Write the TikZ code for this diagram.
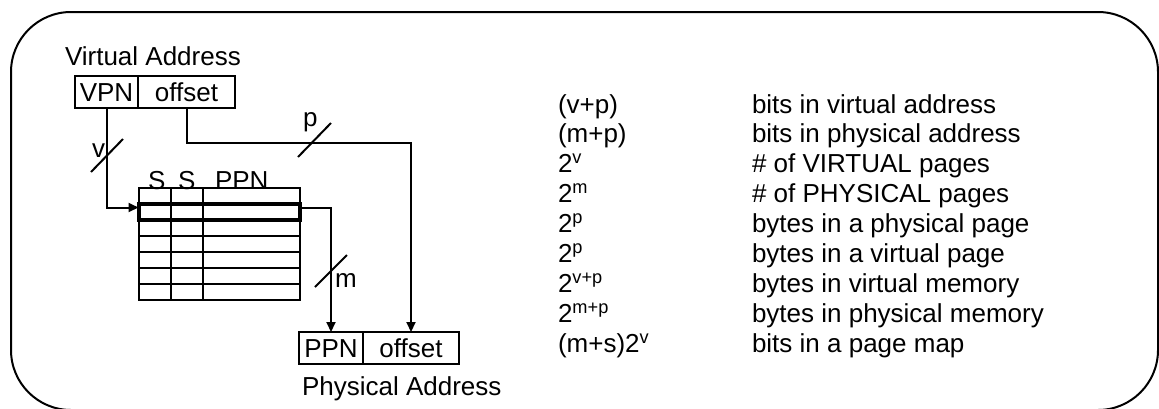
\documentclass[tikz,border=0pt]{standalone}
\usepackage{fontspec}
\setmainfont{Liberation Sans}
\usetikzlibrary{arrows.meta}
\begin{document}
\begin{tikzpicture}[x=1pt,y=-1pt,
  every node/.style={font=\fontsize{26}{30}\selectfont, inner sep=0pt, outer sep=0pt},
  txt/.style={anchor=base west},
  cell/.style={draw, line width=2pt, minimum height=32pt, text height=18.6pt, text depth=0pt, anchor=north west},
  wire/.style={line width=2pt},
  arr/.style={line width=2pt, -{Triangle[length=10pt,width=9pt]}},
]
\useasboundingbox (0,0) rectangle (1159,408);
\draw[line width=2pt, rounded corners=60pt] (11,12) rectangle (1158,410);

% virtual address
\node[txt] (va) at (65,65) {Virtual Address};
\node[cell, minimum width=63pt] (vpn) at (75,76) {VPN};
\node[cell, minimum width=97pt] (voff) at (138,76) {offset};

% page table
\node[draw, line width=2pt, minimum width=161pt, minimum height=112pt, anchor=north west] (tbl) at (138.5,188) {};
\foreach \d in {16,32,48,64,80,96}
  \draw[wire] ([yshift=-\d pt]tbl.north west) -- ([yshift=-\d pt]tbl.north east);
\draw[wire] ([xshift=32.5pt]tbl.north west) -- ([xshift=32.5pt]tbl.south west);
\draw[wire] ([xshift=64.5pt]tbl.north west) -- ([xshift=64.5pt]tbl.south west);
\node[draw, line width=4pt, minimum width=161pt, minimum height=16pt, anchor=north west] (row) at (138.5,204) {};
\node[txt] (s1) at (148,189) {S};
\node[txt] (s2) at (178,189) {S};
\node[txt] (hppn) at (215,189) {PPN};

% physical address
\node[cell, minimum width=64pt] (ppn) at (299,332) {PPN};
\node[cell, minimum width=96pt] (poff) at (363,332) {offset};
\node[txt] (pa) at (302,395) {Physical Address};

% connectors
\draw[arr] (vpn.south) |- ([yshift=4.5pt]row.west);
\draw[arr] ([yshift=4.5pt]row.east) -| (ppn.north);
\draw[arr] (voff.south) -- ++(0,35) -| (poff.north);

% bus-width slashes
\draw[wire] (91,172) -- (123,139);
\draw[wire] (298,157) -- (331,123);
\draw[wire] (315,287) -- (347,255);
\node[txt] (lv) at (92,157) {v};
\node[txt] (lp) at (303,126) {p};
\node[txt] (lm) at (335,287) {m};

% legend
\foreach \i/\a/\b in {0/(v+p)/bits in virtual address,
  1/(m+p)/bits in physical address,
  2/2\textsuperscript{v}/\# of VIRTUAL pages,
  3/2\textsuperscript{m}/\# of PHYSICAL pages,
  4/2\textsuperscript{p}/bytes in a physical page,
  5/2\textsuperscript{p}/bytes in a virtual page,
  6/2\textsuperscript{v+p}/bytes in virtual memory,
  7/2\textsuperscript{m+p}/bytes in physical memory,
  8/(m+s)2\textsuperscript{v}/bits in a page map} {
  \node[txt] (k\i) at (558,113+29.9*\i) {\a};
  \node[txt] (d\i) at (752,113+29.9*\i) {\b};
}
\end{tikzpicture}
\end{document}
